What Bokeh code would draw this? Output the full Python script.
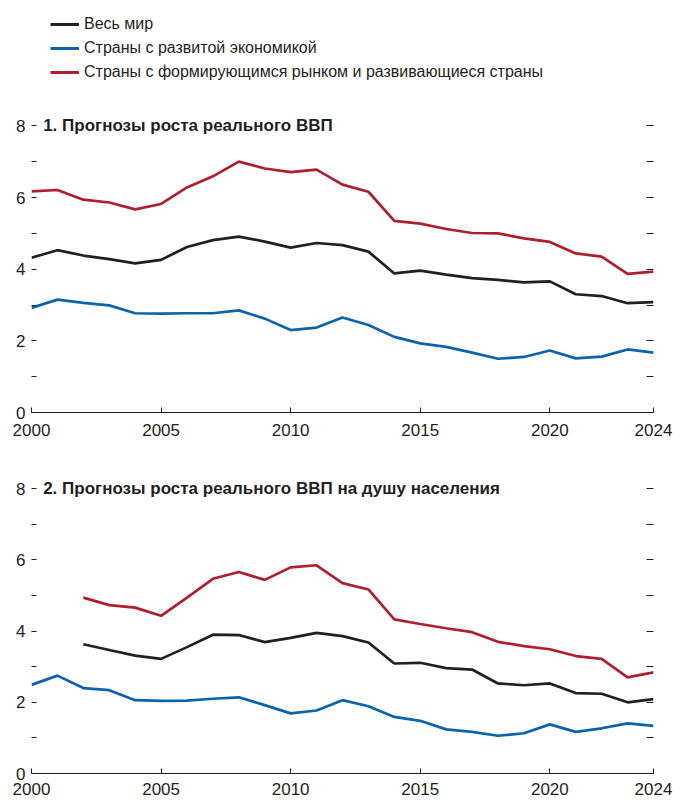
from bokeh.plotting import figure
from bokeh.models import FixedTicker, Label, Legend, LegendItem, LinearAxis, Range1d, CustomJSTickFormatter
from bokeh.layouts import column
from bokeh.embed import file_html
from bokeh.resources import INLINE

FONT = "Liberation Sans"

years = list(range(2000, 2025))
years_pc = list(range(2002, 2025))

# Panel 1: real GDP growth forecasts
world_gdp = [4.32, 4.53, 4.38, 4.28, 4.16, 4.26, 4.62, 4.81, 4.91, 4.77, 4.60, 4.73, 4.67,
             4.49, 3.88, 3.96, 3.85, 3.75, 3.70, 3.63, 3.66, 3.30, 3.25, 3.05, 3.08]
adv_gdp = [2.92, 3.15, 3.06, 2.99, 2.77, 2.76, 2.77, 2.77, 2.85, 2.62, 2.30, 2.37, 2.65,
           2.44, 2.11, 1.93, 1.83, 1.67, 1.50, 1.55, 1.73, 1.51, 1.56, 1.76, 1.67]
emde_gdp = [6.17, 6.21, 5.94, 5.86, 5.67, 5.82, 6.28, 6.59, 7.00, 6.81, 6.71, 6.78, 6.36,
            6.16, 5.35, 5.27, 5.12, 5.01, 5.00, 4.86, 4.76, 4.44, 4.35, 3.87, 3.93]

# Panel 2: real GDP per capita growth forecasts
world_pc = [3.63, 3.47, 3.31, 3.22, 3.55, 3.90, 3.89, 3.69, 3.81, 3.95, 3.86,
            3.68, 3.09, 3.11, 2.96, 2.92, 2.53, 2.48, 2.53, 2.26, 2.24, 2.00, 2.09]
adv_pc = [2.49, 2.75, 2.40, 2.34, 2.06, 2.04, 2.05, 2.10, 2.14, 1.92, 1.69, 1.77, 2.06,
          1.89, 1.59, 1.48, 1.24, 1.17, 1.06, 1.13, 1.38, 1.17, 1.27, 1.41, 1.34]
emde_pc = [4.94, 4.73, 4.66, 4.43, 4.94, 5.47, 5.66, 5.44, 5.79, 5.85, 5.35,
           5.17, 4.33, 4.20, 4.08, 3.97, 3.70, 3.58, 3.49, 3.30, 3.22, 2.70, 2.84]

series_names = ["Весь мир", "Страны с развитой экономикой",
                "Страны с формирующимся рынком и развивающиеся страны"]
titles = ["1. Прогнозы роста реального ВВП",
          "2. Прогнозы роста реального ВВП на душу населения"]
x_ticks = [2000, 2005, 2010, 2015, 2020, 2024]
y_ticks = [0, 2, 4, 6, 8]
y_minor = [1, 3, 5, 7]

BLACK = "#231f20"
BLUE = "#0b63aa"
RED = "#ae1f2e"
colors = [BLACK, BLUE, RED]

BL, FW, BR = 31, 622, 21


def make_panel(title, data, frame_h, top, bottom, standoff):
    p = figure(frame_width=FW, frame_height=frame_h,
               x_range=Range1d(2000, 2024), y_range=Range1d(0, 8.4),
               output_backend="svg", toolbar_location=None,
               min_border_left=BL, min_border_right=BR,
               min_border_top=top, min_border_bottom=bottom,
               x_axis_location=None, y_axis_location=None)
    p.outline_line_color = None
    p.xgrid.visible = False
    p.ygrid.visible = False

    xa = LinearAxis(ticker=FixedTicker(ticks=x_ticks, minor_ticks=[]))
    xa.axis_line_color = BLACK
    xa.axis_line_width = 1
    xa.major_tick_in = 5
    xa.major_tick_out = 0
    xa.major_tick_line_color = BLACK
    xa.minor_tick_line_color = None
    xa.major_label_standoff = standoff
    xa.major_label_text_font = FONT
    xa.major_label_text_font_size = "17px"
    xa.major_label_text_color = BLACK
    p.add_layout(xa, "below")

    for side in ("left", "right"):
        ya = LinearAxis(ticker=FixedTicker(ticks=y_ticks, minor_ticks=y_minor))
        ya.axis_line_color = None
        ya.major_tick_in = 5 if side == "left" else 7
        ya.major_tick_out = 0
        ya.minor_tick_in = 5 if side == "left" else 7
        ya.minor_tick_out = 0
        ya.major_tick_line_color = BLACK
        ya.minor_tick_line_color = BLACK
        ya.major_label_standoff = 6
        ya.major_label_text_font = FONT
        ya.major_label_text_font_size = "17px"
        ya.major_label_text_color = BLACK
        if side == "right":
            ya.formatter = CustomJSTickFormatter(code="return ''")
            ya.major_label_standoff = 0
        p.add_layout(ya, side)

    for (xs, ys), c in zip(data, colors):
        p.line(xs, ys, line_color=c, line_width=2.7)

    p.add_layout(Label(x=2000.45, y=8, text=title, text_baseline="middle",
                       text_font=FONT, text_font_size="17px", text_font_style="bold",
                       text_color=BLACK))
    return p


p1 = make_panel(titles[0], [(years, world_gdp), (years, adv_gdp), (years, emde_gdp)],
                301, 21, 38, 11)
p2 = make_panel(titles[1], [(years_pc, world_pc), (years, adv_pc), (years_pc, emde_pc)],
                299, 24, 27, 9)

# Legend strip (its lines lie outside its own view; only the legend shows)
pl = figure(frame_width=FW, frame_height=90, output_backend="svg", toolbar_location=None,
            x_range=Range1d(0, 1), y_range=Range1d(0, 1),
            x_axis_location=None, y_axis_location=None,
            min_border_left=BL, min_border_top=0, min_border_right=BR, min_border_bottom=0)
pl.outline_line_color = None
pl.xgrid.visible = False
pl.ygrid.visible = False
items = []
for name, ys, c in zip(series_names, [world_gdp, adv_gdp, emde_gdp], colors):
    r = pl.line(years, ys, line_color=c, line_width=3)
    items.append(LegendItem(label=name, renderers=[r]))
leg = Legend(items=items, location=(19, 8), border_line_color=None,
             background_fill_alpha=0, margin=0, padding=0, spacing=4,
             glyph_width=29, glyph_height=20, label_height=20, label_standoff=5,
             label_text_font=FONT, label_text_font_size="16px", label_text_color=BLACK)
pl.add_layout(leg)

layout = column(pl, p1, p2)
open("out.html", "w").write(file_html(layout, INLINE))
